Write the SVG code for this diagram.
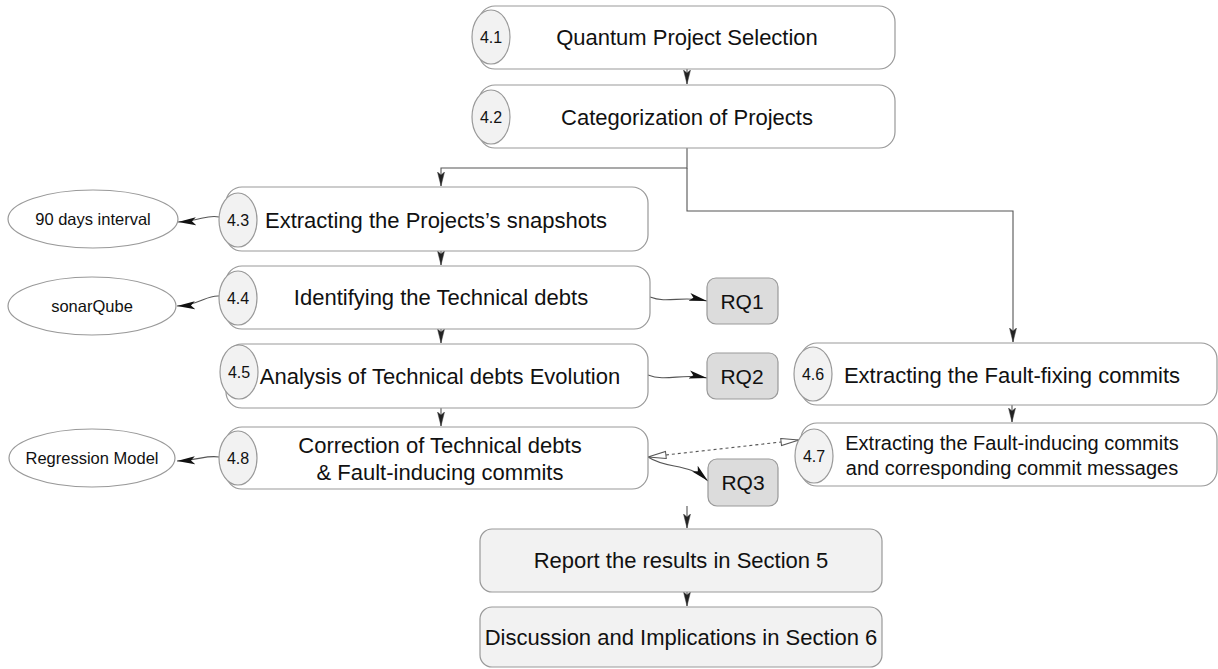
<svg xmlns="http://www.w3.org/2000/svg" width="1218" height="669" viewBox="0 0 1218 669">
<style>
text{font-family:"Liberation Sans",Arial,Helvetica,sans-serif;fill:#111;text-anchor:middle}
.box{fill:#fff;stroke:#999;stroke-width:1.2}
.num{fill:#f2f2f2;stroke:#999;stroke-width:1.2}
.side{fill:#fff;stroke:#999;stroke-width:1.2}
.rq{fill:#dcdcdc;stroke:#999;stroke-width:1.2}
.out{fill:#f2f2f2;stroke:#999;stroke-width:1.2}
.t{font-size:22px}
.n{font-size:16px}
.s{font-size:16.5px}
.c{fill:none;stroke:#555;stroke-width:1.1}
</style>
<defs>
<marker id="av" markerUnits="userSpaceOnUse" markerWidth="15" markerHeight="9" refX="14" refY="4.5" orient="auto"><path d="M0,1 L14,4.5 L0,8 L3,4.5 z" fill="#222" stroke="#444" stroke-width="0.5"/></marker>
<marker id="as" markerUnits="userSpaceOnUse" markerWidth="19" markerHeight="10" refX="18" refY="5" orient="auto"><path d="M0,1 L18,5 L0,9 L4,5 z" fill="#111"/></marker>
<marker id="ao" markerUnits="userSpaceOnUse" markerWidth="20" markerHeight="10" refX="19" refY="5" orient="auto-start-reverse"><path d="M1,1.5 L19,5 L1,8.5 z" fill="#fff" stroke="#555" stroke-width="1"/></marker>
</defs>

<g id="connectors">
<path class="c" d="M687,69 V84" marker-end="url(#av)"/>
<path class="c" d="M687,148 V168 H441 V186" marker-end="url(#av)"/>
<path class="c" d="M687,168 V211 H1013 V342" marker-end="url(#av)"/>
<path class="c" d="M441,251 V265" marker-end="url(#av)"/>
<path class="c" d="M441,329 V343" marker-end="url(#av)"/>
<path class="c" d="M441,408 V426" marker-end="url(#av)"/>
<path class="c" d="M1012,405 V422" marker-end="url(#av)"/>
<path class="c" d="M687,506 V528" marker-end="url(#av)"/>
<path class="c" d="M687,592 V606" marker-end="url(#av)"/>
<path class="c" d="M219,217 C208,214 200,221 178,222" marker-end="url(#as)"/>
<path class="c" d="M219,296 C206,295 200,305 177,306" marker-end="url(#as)"/>
<path class="c" d="M219,457 C206,455 200,460 177,461" marker-end="url(#as)"/>
<path class="c" d="M650,297 C668,304 682,295 707,301" marker-end="url(#as)"/>
<path class="c" d="M648,375 C666,382 682,373 707,378" marker-end="url(#as)"/>
<path class="c" d="M648,457 C668,470 688,462 708,481" marker-end="url(#as)"/>
<path class="c" d="M648,457 L799,440" stroke-dasharray="3,3" marker-start="url(#ao)" marker-end="url(#ao)"/>
</g>

<g id="n41"><rect class="box" x="479" y="6" width="416" height="63" rx="16"/><ellipse class="num" cx="491" cy="37" rx="19" ry="27"/><text class="n" x="491" y="43">4.1</text><text class="t" x="687" y="45">Quantum Project Selection</text></g>
<g id="n42"><rect class="box" x="479" y="85" width="416" height="63" rx="16"/><ellipse class="num" cx="491" cy="117" rx="19" ry="27"/><text class="n" x="491" y="123">4.2</text><text class="t" x="687" y="125">Categorization of Projects</text></g>
<g id="n43"><rect class="box" x="226" y="187" width="422" height="64" rx="16"/><ellipse class="num" cx="238" cy="220" rx="19" ry="27"/><text class="n" x="238" y="226">4.3</text><text class="t" x="436" y="228">Extracting the Projects’s snapshots</text></g>
<g id="n44"><rect class="box" x="226" y="266" width="424" height="63" rx="16"/><ellipse class="num" cx="238" cy="298" rx="19" ry="27"/><text class="n" x="238" y="304">4.4</text><text class="t" x="441" y="305">Identifying the Technical debts</text></g>
<g id="n45"><rect class="box" x="226" y="344" width="422" height="64" rx="16"/><ellipse class="num" cx="239" cy="372" rx="19" ry="27"/><text class="n" x="239" y="378">4.5</text><text class="t" x="440" y="384">Analysis of Technical debts Evolution</text></g>
<g id="n48"><rect class="box" x="226" y="427" width="422" height="62" rx="16"/><ellipse class="num" cx="238" cy="458" rx="19" ry="27"/><text class="n" x="238" y="464">4.8</text><text class="t" x="440" y="453">Correction of Technical debts</text><text class="t" x="440" y="480">&amp; Fault-inducing commits</text></g>
<g id="n46"><rect class="box" x="801" y="343" width="416" height="62" rx="16"/><ellipse class="num" cx="813" cy="374" rx="19" ry="27"/><text class="n" x="813" y="380">4.6</text><text class="t" x="1012" y="383">Extracting the Fault-fixing commits</text></g>
<g id="n47"><rect class="box" x="801" y="423" width="416" height="63" rx="16"/><ellipse class="num" cx="814" cy="456" rx="19" ry="27"/><text class="n" x="814" y="462">4.7</text><text x="1012" y="450" font-size="20">Extracting the Fault-inducing commits</text><text x="1012" y="475" font-size="20">and corresponding commit messages</text></g>
<g id="e90"><ellipse class="side" cx="93" cy="219" rx="85" ry="29"/><text class="s" x="93" y="225">90 days interval</text></g>
<g id="esonar"><ellipse class="side" cx="92" cy="306" rx="84" ry="29"/><text class="s" x="92" y="312">sonarQube</text></g>
<g id="ereg"><ellipse class="side" cx="92" cy="458" rx="83" ry="29"/><text class="s" x="92" y="464">Regression Model</text></g>
<g id="rq1"><rect class="rq" x="707" y="278" width="71" height="46" rx="9"/><text x="742" y="309" font-size="21">RQ1</text></g>
<g id="rq2"><rect class="rq" x="707" y="353" width="71" height="46" rx="9"/><text x="742" y="384" font-size="21">RQ2</text></g>
<g id="rq3"><rect class="rq" x="708" y="459" width="70" height="47" rx="9"/><text x="743" y="490" font-size="21">RQ3</text></g>
<g id="report"><rect class="out" x="480" y="529" width="402" height="63" rx="12"/><text class="t" x="681" y="568">Report the results in Section 5</text></g>
<g id="discussion"><rect class="out" x="480" y="607" width="402" height="60" rx="12"/><text class="t" x="681" y="645">Discussion and Implications in Section 6</text></g>
</svg>
